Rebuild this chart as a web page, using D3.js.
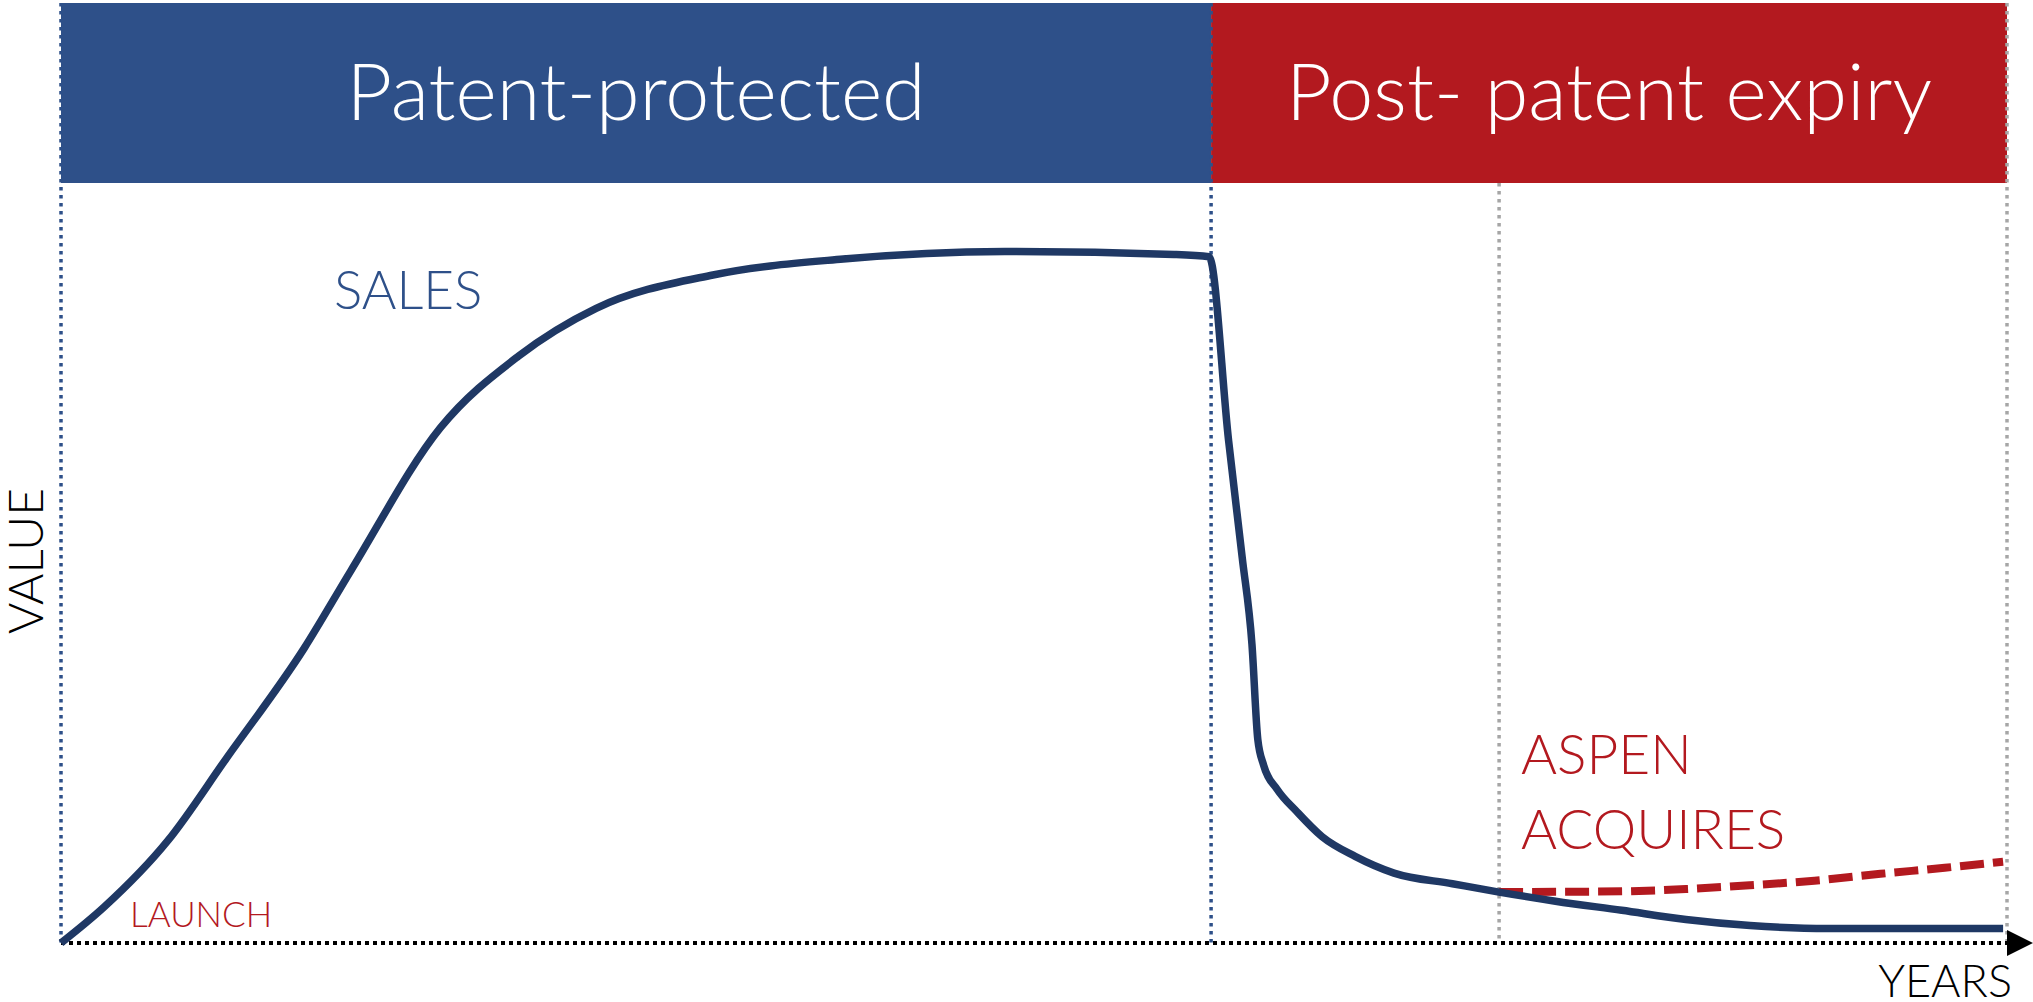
<!DOCTYPE html>
<html>
<head>
<meta charset="utf-8">
<script src="https://cdn.jsdelivr.net/npm/d3@7"></script>
<style>
	html, body { margin: 0; padding: 0; background: #fff; }
	svg { display: block; }
	text { font-family: Lato, "Open Sans", sans-serif; font-weight: 300; }
</style>
</head>
<body>
<div id="chart"></div>
<script>

// Phase bands (x in abstract years, 0..100)
var phases = ['Patent-protected', 'Post- patent expiry'];
var phaseStart = [0, 59.1];
var phaseEnd = [59.1, 100];

// Event markers
var expiryYear = 59.1;
var aspenYear = 73.9;

// Sales curve
var salesYears = [0, 2.2, 5.5, 8.5, 12.5, 14.9, 19.5, 23.5, 27.5, 33.5, 40.2, 48.5, 57.2, 59.0,
	60.0, 60.7, 61.2, 61.5, 61.8, 62.5, 63.5, 64.8, 66.5, 68.5, 71.5, 73.9, 76.8, 80.2, 83.5, 86.8, 90.8, 99.8];
var salesValues = [0, 4.7, 13.5, 24.3, 38.8, 49.0, 67.8, 77.2, 83.5, 87.9, 90.0, 91.0, 90.6, 90.3,
	66.1, 50.7, 39.3, 26.8, 23.4, 20.2, 17.3, 14.0, 11.4, 9.2, 7.8, 6.7, 5.5, 4.3, 3.1, 2.3, 1.9, 1.9];

// Aspen projection (dashed)
var aspenYears = [73.9, 80.2, 83.5, 86.8, 90.1, 93.5, 96.8, 99.8];
var aspenValues = [6.7, 6.8, 7.1, 7.6, 8.2, 9.1, 9.9, 10.7];


var Chart = (function() {

	var width = 2033, height = 1002;
	var left = 61, right = 2007, top = 3, bandBottom = 183, axisY = 943;

	var blue = '#2E5089', red = '#B3191F', navy = '#1F3864', gray = '#A6A6A6';

	function guide(svg, xPos, y1, color) {

		svg.append('line')
			.attr('x1', xPos).attr('x2', xPos)
			.attr('y1', y1).attr('y2', axisY)
			.attr('stroke', color).attr('stroke-width', 3.5)
			.attr('stroke-dasharray', '3.5,4.5');
	}

	function draw(rootEl) {

		var svg = d3.select(rootEl).append('svg')
			.attr('width', width)
			.attr('height', height);

		var x = d3.scaleLinear().domain([0, 100]).range([left, right]);
		var y = d3.scaleLinear().domain([0, 100]).range([axisY, bandBottom]);

		/* Phase bands */
		var bandColors = [blue, red];
		var bands = svg.selectAll('g.band')
			.data(phases)
			.enter()
			.append('g')
			.attr('class', 'band');

		bands.append('rect')
			.attr('x', (d, i) => x(phaseStart[i]))
			.attr('y', top)
			.attr('width', (d, i) => x(phaseEnd[i]) - x(phaseStart[i]))
			.attr('height', bandBottom - top)
			.attr('fill', (d, i) => bandColors[i]);

		bands.append('text')
			.attr('x', (d, i) => (x(phaseStart[i]) + x(phaseEnd[i])) / 2)
			.attr('y', 120)
			.attr('text-anchor', 'middle')
			.attr('fill', '#fff')
			.style('font-size', '79px')
			.text((d) => d);

		/* Vertical dotted guides */
		guide(svg, x(0), top, blue);
		guide(svg, x(expiryYear), top, blue);
		guide(svg, x(aspenYear), bandBottom, gray);
		guide(svg, x(100), top, gray);

		/* X axis with arrow */
		svg.append('line')
			.attr('x1', x(0)).attr('x2', x(100))
			.attr('y1', axisY).attr('y2', axisY)
			.attr('stroke', '#000').attr('stroke-width', 4)
			.attr('stroke-dasharray', '4,4');

		svg.append('path')
			.attr('d', d3.line()([[x(100), axisY - 13], [x(100) + 26, axisY], [x(100), axisY + 13]]))
			.attr('fill', '#000');

		/* Lines */
		var line = d3.line()
			.x((d) => x(d[0]))
			.y((d) => y(d[1]))
			.curve(d3.curveMonotoneX);

		svg.append('path')
			.datum(d3.zip(aspenYears, aspenValues))
			.attr('d', line)
			.attr('fill', 'none')
			.attr('stroke', red)
			.attr('stroke-width', 8)
			.attr('stroke-dasharray', '24,9');

		svg.append('path')
			.datum(d3.zip(salesYears, salesValues))
			.attr('d', line)
			.attr('fill', 'none')
			.attr('stroke', navy)
			.attr('stroke-width', 7.5)
			.attr('stroke-linejoin', 'round');

		/* Labels */
		svg.append('text')
			.attr('x', 334).attr('y', 309)
			.attr('fill', blue)
			.style('font-size', '53px')
			.text('SALES');

		svg.append('text')
			.attr('x', 130).attr('y', 927)
			.attr('fill', red)
			.style('font-size', '35px')
			.text('LAUNCH');

		svg.append('text')
			.attr('x', 1521).attr('y', 774)
			.attr('fill', red)
			.style('font-size', '55px')
			.text('ASPEN');

		svg.append('text')
			.attr('x', 1521).attr('y', 849)
			.attr('fill', red)
			.style('font-size', '55px')
			.text('ACQUIRES');

		svg.append('text')
			.attr('transform', 'translate(43,561) rotate(-90)')
			.attr('text-anchor', 'middle')
			.attr('fill', '#000')
			.style('font-size', '48px')
			.text('VALUE');

		svg.append('text')
			.attr('x', 2012).attr('y', 997)
			.attr('text-anchor', 'end')
			.attr('fill', '#000')
			.style('font-size', '45px')
			.text('YEARS');
	}

	return {draw};
})();

Chart.draw(document.getElementById('chart'));

</script>
</body>
</html>
